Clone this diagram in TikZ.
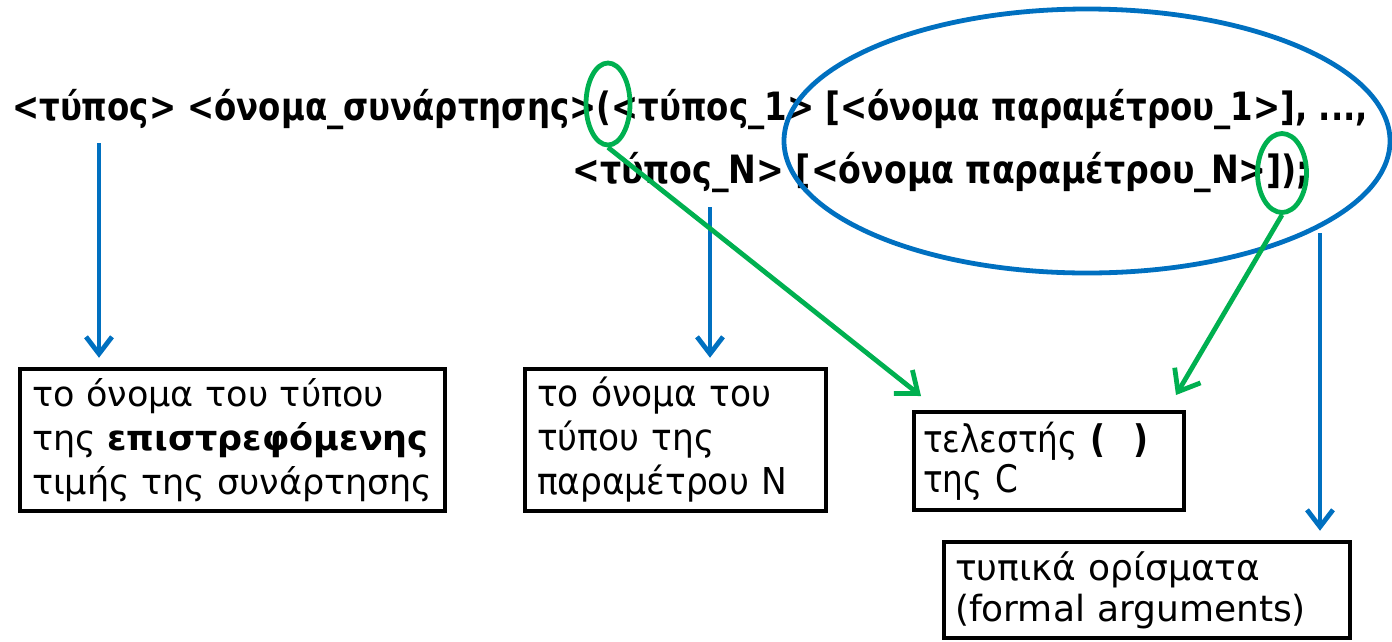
\documentclass[tikz,border=0pt]{standalone}
\usepackage{fontspec}
\setmainfont{DejaVu Sans}
\newfontfamily\narrowfont[FakeStretch=0.93]{DejaVu Sans}
\newfontfamily\condfont[FakeStretch=0.86]{DejaVu Sans}
\usetikzlibrary{arrows.meta,shapes.geometric}
\definecolor{pblue}{HTML}{0070C0}
\definecolor{pgreen}{HTML}{00B050}
\tikzset{
  toptext/.style={anchor=base west, inner sep=0pt, font=\fontsize{39}{44}\selectfont\bfseries},
  boxnode/.style={draw=black, line width=4.5pt, rectangle, align=left, inner ysep=0pt},
  blueline/.style={draw=pblue, line width=4.8pt},
  greenline/.style={draw=pgreen, line width=4.8pt},
  barrow/.style={draw=pblue, line width=4.8pt, -{Straight Barb[length=17pt,width=26pt]}},
  garrow/.style={draw=pgreen, line width=4.8pt, -{Straight Barb[length=19pt,width=30pt]}},
}
\begin{document}
\begin{tikzpicture}[x=1pt,y=-1pt]
\useasboundingbox (0,0) rectangle (1392,641);

% top declaration lines
\node[toptext] (l1) at (12,120) {\resizebox{1356pt}{\height}{<τύπος> <όνομα\_συνάρτησης>(<τύπος\_1> [<όνομα παραμέτρου\_1>], ...,}};
\node[toptext] (l2) at (572,183) {\resizebox{738pt}{\height}{<τύπος\_N> [<όνομα παραμέτρου\_N>]);}};

% ellipses
\node[greenline, ellipse, minimum width=44pt, minimum height=82pt, inner sep=0pt] (e1) at (608,104) {};
\node[greenline, ellipse, minimum width=49pt, minimum height=79pt, inner sep=0pt] (e2) at (1282,173) {};
\node[blueline, ellipse, minimum width=606pt, minimum height=264pt, inner sep=0pt] (E) at (1087,141) {};

% boxes
\node[boxnode, inner xsep=12pt, text width=401pt, minimum height=142pt,
      font=\fontsize{35}{44}\selectfont] (b1) at (232.5,440)
  {\mbox{το όνομα του τύπου}\\\mbox{της \textbf{επιστρεφόμενης}}\\\mbox{τιμής της συνάρτησης}};
\node[boxnode, inner xsep=12pt, text width=277pt, minimum height=142pt,
      font=\fontsize{37}{44}\selectfont\narrowfont] (b2) at (675.5,440)
  {\mbox{το όνομα του}\\\mbox{τύπου της}\\\mbox{παραμέτρου N}};
\node[boxnode, inner xsep=9pt, text width=252pt, minimum height=98pt,
      font=\fontsize{38}{40}\selectfont\condfont] (b3) at (1049,461)
  {\mbox{τελεστής \textbf{(\hspace{0.75em})}}\\\mbox{της C}};
\node[boxnode, inner xsep=11pt, text width=384pt, minimum height=96pt,
      font=\fontsize{36}{41}\selectfont] (b4) at (1147,590)
  {\mbox{τυπικά ορίσματα}\\\mbox{(formal arguments)}};

% connector ends
\coordinate (a1) at (99,143);
\coordinate (a2) at (710,207);
\coordinate (a3) at (1320,233);
\coordinate (g1) at (921,396);
\coordinate (g2) at (1176,395);

% blue arrows
\draw[barrow, shorten >=9pt] (a1) -- (a1 |- b1.north);
\draw[barrow, shorten >=9pt] (a2) -- (a2 |- b2.north);
\draw[barrow, shorten >=9pt] (a3) -- (a3 |- b4.north);

% green arrows
\draw[garrow] (e1.south) -- (g1);
\draw[garrow] (e2.south) -- (g2);
\end{tikzpicture}
\end{document}
